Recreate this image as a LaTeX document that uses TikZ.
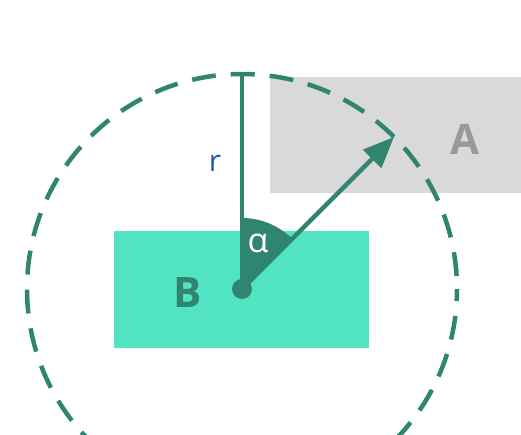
\documentclass[tikz,border=0pt]{standalone}
\usepackage{fontspec}
\setmainfont{Open Sans}
\usetikzlibrary{arrows.meta}
\definecolor{dteal}{HTML}{2F8570}
\definecolor{mint}{HTML}{52E3C2}
\definecolor{lgray}{HTML}{D9D9D9}
\definecolor{tgray}{HTML}{999999}
\definecolor{rblue}{HTML}{2258A8}
\tikzset{
  boxlabel/.style={font=\fontsize{42}{42}\selectfont\bfseries},
  radline/.style={draw=dteal, line width=4.5pt},
}
\begin{document}
\begin{tikzpicture}[x=1pt,y=-1pt]
\useasboundingbox (0,0) rectangle (521,434);
\begin{scope}
\clip (0,0) rectangle (521,434);
% rectangles
\fill[lgray] (270,77) rectangle (521,193);
\node[boxlabel, text=tgray] (A) at (465,139) {A};
\fill[mint] (114,231) rectangle (369,348);
\node[boxlabel, text=dteal] (B) at (188,293) {B};
% circle
\coordinate (O) at (242,289);
\coordinate (T) at (242,74);
\coordinate (P) at (394,137);
\draw[dteal, line width=4.5pt, dash pattern=on 24pt off 15pt, dash phase=12pt] (O) circle[radius=215];
% wedge
\fill[dteal] (O) -- ++(0,-71) arc[start angle=-90, end angle=-45, radius=71] -- cycle;
\node[text=white, font=\fontsize{34}{34}\selectfont] (alpha) at (258,243) {α};
% radius lines
\draw[radline] (O) -- (T);
\draw[radline, -{Triangle[length=31pt,width=25pt]}] (O) -- (P);
\fill[dteal] (O) circle[radius=10];
\node[text=rblue, font=\fontsize{30}{30}\selectfont] (r) at (215,163) {r};
\end{scope}
\end{tikzpicture}
\end{document}
